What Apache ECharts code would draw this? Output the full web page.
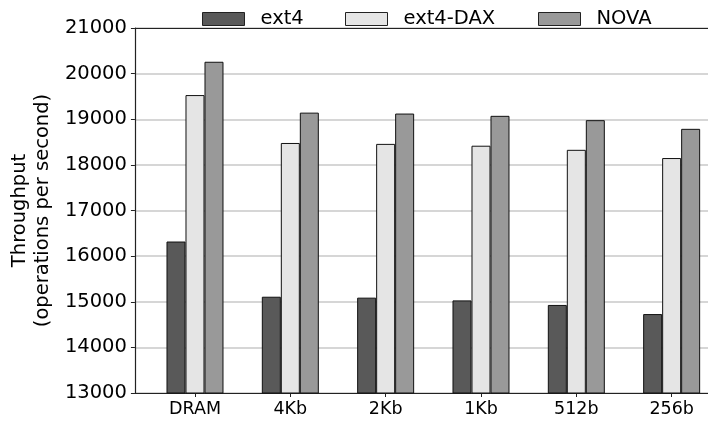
<!DOCTYPE html>
<html>
<head>
<meta charset="utf-8">
<script src="https://cdn.jsdelivr.net/npm/echarts@6/dist/echarts.min.js"></script>
<style>
  html, body { margin: 0; padding: 0; background: #fff; overflow: hidden; }
  #chart { width: 730px; height: 421px; }
</style>
</head>
<body>
<div id="chart"></div>
<script>
// Throughput per workload / block size for three file systems
const categories = ['DRAM', '4Kb', '2Kb', '1Kb', '512b', '256b'];
const seriesNames = ['ext4', 'ext4-DAX', 'NOVA'];
const ext4 = [16320, 15110, 15090, 15030, 14930, 14730];
const ext4Dax = [19530, 18480, 18460, 18420, 18330, 18150];
const nova = [20260, 19145, 19125, 19075, 18980, 18790];
const yTicks = [13000, 14000, 15000, 16000, 17000, 18000, 19000, 20000, 21000];

const colors = ['#595959', '#e5e5e5', '#999999'];
const FONT = 'DejaVu Sans';
const seriesValues = [ext4, ext4Dax, nova];

// The canvas is a little wider than the visible window so the last
// category band can run past the right edge, as the plot is clipped there.
const frame = { left: 130, right: 22, top: 28, bottom: 28 };
const band = 95.33;
const barGridLeft = 147.33;

const chart = echarts.init(document.getElementById('chart'), null, { renderer: 'canvas' });

const legendLefts = [197, 340, 533];
const axisColor = '#222';

chart.setOption({
  animation: false,
  backgroundColor: '#ffffff',
  grid: [
    { left: frame.left, right: frame.right, top: frame.top, bottom: frame.bottom },
    { left: barGridLeft, width: band * categories.length, top: frame.top, bottom: frame.bottom }
  ],
  legend: seriesNames.map((n, i) => ({
    data: [n],
    left: legendLefts[i],
    top: 4,
    icon: 'rect',
    itemWidth: 42,
    itemHeight: 13,
    itemStyle: { borderColor: '#222', borderWidth: 1 },
    textStyle: { fontFamily: FONT, fontSize: 19.5, color: '#000', padding: [0, 0, 0, 11], lineHeight: 20 }
  })),
  xAxis: [
    {
      // bottom spine of the frame
      gridIndex: 0, type: 'value', min: 0, max: 1, position: 'bottom',
      axisLine: { show: true, onZero: false, lineStyle: { color: axisColor, width: 1.2 } },
      axisTick: { show: false }, axisLabel: { show: false }, splitLine: { show: false }
    },
    {
      // top spine of the frame
      gridIndex: 0, type: 'value', min: 0, max: 1, position: 'top',
      axisLine: { show: true, onZero: false, lineStyle: { color: axisColor, width: 1.2 } },
      axisTick: { show: false }, axisLabel: { show: false }, splitLine: { show: false }
    },
    {
      gridIndex: 1, type: 'category', data: categories, position: 'bottom',
      axisLine: { show: false },
      axisTick: { show: true, alignWithLabel: true, length: 4, lineStyle: { color: axisColor, width: 1 } },
      axisLabel: { fontFamily: FONT, fontSize: 17.5, color: '#000', margin: 7 },
      splitLine: { show: false }
    }
  ],
  yAxis: [
    {
      gridIndex: 0, type: 'value', min: 13000, max: 21000, interval: 1000,
      name: 'Throughput\n(operations per second)',
      nameLocation: 'middle', nameRotate: 90, nameGap: 74,
      nameTextStyle: { fontFamily: FONT, fontSize: 19.5, color: '#000', lineHeight: 23, align: 'center' },
      axisLine: { show: true, lineStyle: { color: axisColor, width: 1.2 } },
      axisTick: { show: true, length: 4, lineStyle: { color: axisColor, width: 1 } },
      axisLabel: {
        fontFamily: FONT, fontSize: 19.5, color: '#000', margin: 8,
        formatter: v => yTicks.includes(v) ? String(v) : ''
      },
      splitLine: { show: true, lineStyle: { color: '#c8c8c8', width: 1.5 } }
    },
    {
      gridIndex: 1, type: 'value', min: 13000, max: 21000, interval: 1000,
      show: false, splitLine: { show: false }
    }
  ],
  series: seriesNames.map((n, s) => ({
    name: n,
    type: 'bar',
    xAxisIndex: 2,
    yAxisIndex: 1,
    barWidth: 19,
    barGap: '0%',
    data: seriesValues[s],
    itemStyle: { color: colors[s], borderColor: '#111', borderWidth: 1 }
  }))
});
</script>
</body>
</html>
